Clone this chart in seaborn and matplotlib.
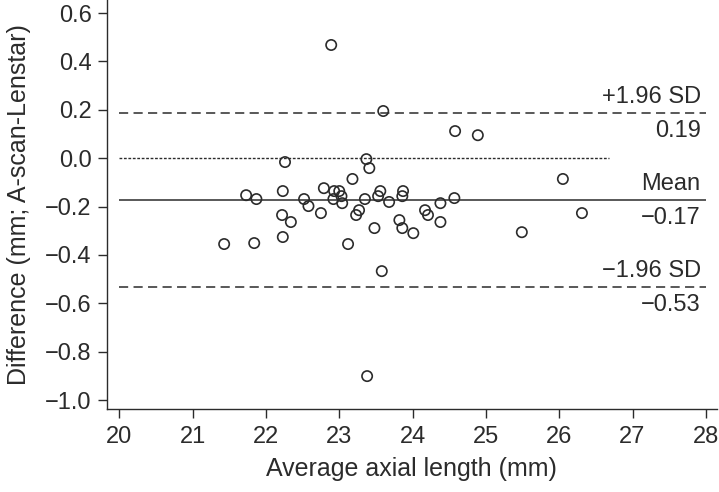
import numpy as np
import pandas as pd
import matplotlib
matplotlib.use("Agg")
import matplotlib.pyplot as plt
import seaborn as sns

# average axial length (mm) and difference (A-scan minus Lenstar)
avg_length = [22.89, 23.60, 24.58, 24.89, 22.26, 23.37, 23.41, 23.18,
              21.73, 21.87, 22.23, 22.52, 22.58, 22.79, 22.93, 23.00,
              23.03, 22.92, 23.04, 23.35, 23.56, 23.53, 23.68, 23.87,
              23.86, 22.22, 22.34, 22.75, 23.23, 23.27, 23.48, 23.82,
              23.86, 24.01, 21.43, 21.84, 22.23, 23.12, 23.58, 23.38,
              24.17, 24.21, 24.38, 24.57, 24.38, 25.49, 26.05, 26.31]
difference = [0.468, 0.195, 0.112, 0.095, -0.016, -0.004, -0.041, -0.086,
              -0.153, -0.169, -0.136, -0.169, -0.198, -0.124, -0.136, -0.136,
              -0.157, -0.169, -0.186, -0.169, -0.136, -0.157, -0.181, -0.136,
              -0.157, -0.235, -0.264, -0.227, -0.235, -0.215, -0.289, -0.256,
              -0.289, -0.310, -0.355, -0.351, -0.326, -0.355, -0.467, -0.901,
              -0.215, -0.235, -0.186, -0.165, -0.264, -0.306, -0.086, -0.227]

upper_loa = 0.186
mean_diff = -0.173
lower_loa = -0.533

x_ticks = [20, 21, 22, 23, 24, 25, 26, 27, 28]
y_ticks = [0.6, 0.4, 0.2, 0.0, -0.2, -0.4, -0.6, -0.8, -1.0]

sns.set_style("ticks")
plt.rcParams['font.family'] = ['Liberation Sans', 'DejaVu Sans']
plt.rcParams['axes.unicode_minus'] = True

INK = "#2b2b2b"
df = pd.DataFrame({"avg": avg_length, "diff": difference})

fig = plt.figure(figsize=(7.19, 4.92), dpi=100)
ax = fig.add_axes([0.1488, 0.1687, 0.8482, 0.8313])

sns.scatterplot(data=df, x="avg", y="diff", ax=ax, marker="o", s=55,
                facecolor="none", edgecolor=INK, linewidth=1.2, zorder=3)

ax.hlines(upper_loa, 20, 28, colors=INK, linestyles=(0, (6, 3.5)), linewidth=1.1)
ax.hlines(lower_loa, 20, 28, colors=INK, linestyles=(0, (6, 3.5)), linewidth=1.1)
ax.hlines(mean_diff, 20, 28, colors=INK, linestyles="solid", linewidth=1.1)
ax.hlines(0.0, 20, 26.68, colors=INK, linestyles=(0, (2, 1.2)), linewidth=1.0)

fs = 17
tx = 27.93
ax.text(tx, upper_loa + 0.022, "+1.96 SD", ha="right", va="bottom", fontsize=fs, color=INK)
ax.text(tx, upper_loa - 0.028, f"{upper_loa:.2f}", ha="right", va="top", fontsize=fs, color=INK)
ax.text(tx, mean_diff + 0.022, "Mean", ha="right", va="bottom", fontsize=fs, color=INK)
ax.text(tx, mean_diff - 0.028, "\u22120.17", ha="right", va="top", fontsize=fs, color=INK)
ax.text(tx, lower_loa + 0.022, "\u22121.96 SD", ha="right", va="bottom", fontsize=fs, color=INK)
ax.text(tx, lower_loa - 0.028, "\u22120.53", ha="right", va="top", fontsize=fs, color=INK)

ax.set_xlim(19.832, 28.15)
ax.set_ylim(-1.037, 0.654)
ax.set_xticks(x_ticks)
ax.set_yticks(y_ticks)
ax.set_xticklabels([str(t) for t in x_ticks])
ax.set_yticklabels([f"{t:.1f}".replace("-", "\u2212") for t in y_ticks])
ax.tick_params(axis="both", labelsize=17, colors=INK, length=6.5, width=1.0,
               direction="out")
ax.tick_params(axis="x", pad=6)
ax.tick_params(axis="y", pad=4.5)

ax.set_xlabel("Average axial length (mm)", fontsize=18, color=INK)
ax.set_ylabel("Difference (mm; A-scan-Lenstar)", fontsize=18, color=INK)
ax.xaxis.set_label_coords(0.5, -0.117)
ax.yaxis.set_label_coords(-0.1246, 0.5)

sns.despine(ax=ax)
for side in ["left", "bottom"]:
    ax.spines[side].set_color(INK)
    ax.spines[side].set_linewidth(1.0)

fig.savefig("out.png", dpi=100)
